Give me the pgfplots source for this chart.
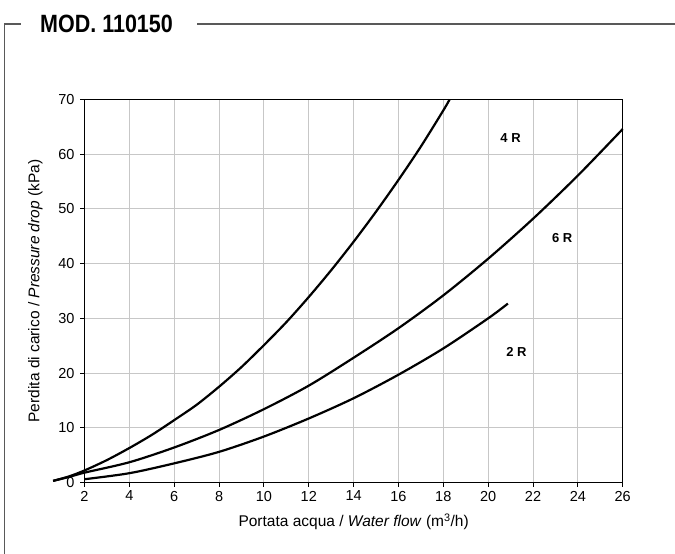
\documentclass[border=0pt]{standalone}
\usepackage{fontspec}
\setmainfont{Liberation Sans}
\newfontfamily\titlefont[FakeStretch=0.86]{Liberation Sans}
\usepackage{pgfplots}
\pgfplotsset{compat=1.18}

\begin{document}
\begin{tikzpicture}
\useasboundingbox (0,0) rectangle (675bp,554bp);
% frame round the chart
\draw[black!65, line width=1.6bp] (4.5bp,0) -- (4.5bp,530bp) -- (21bp,530bp);
\draw[black!65, line width=1.6bp] (197bp,530bp) -- (675bp,530bp);
\node[anchor=base west, inner sep=0pt, font=\titlefont\fontsize{25bp}{28bp}\selectfont\bfseries] at (40bp,521.7bp) {MOD. 110150};

\begin{axis}[at={(84.5bp,71.5bp)}, anchor=south west,
  scale only axis, width=538.2bp, height=383bp,
  xmin=2, xmax=26, ymin=0, ymax=70,
  xtick={2,4,...,26}, ytick={0,10,...,70},
  xtick pos=bottom, ytick pos=left, tick align=outside,
  major tick length=4bp, tick style={black, line width=1bp},
  grid=major, grid style={black!22, line width=1bp},
  axis line style={black, line width=1.4bp},
  clip=false,
  ticklabel style={font=\fontsize{14.5bp}{16bp}\selectfont},
  yticklabel style={xshift=-2.5bp},
  xticklabel style={yshift=-1bp},
  /pgf/number format/assume math mode=true,
  label style={font=\fontsize{15.5bp}{18bp}\selectfont},
  xlabel style={yshift=-6bp},
  ylabel style={yshift=9bp},
  xlabel={Portata acqua / \textit{Water flow} (m\textsuperscript{3}/h)},
  ylabel={Perdita di carico / \textit{Pressure drop} (kPa)}]
% 4 R
\addplot[black, line width=2.2bp, smooth] coordinates {
 (0.6,0.3) (1.3,1.1) (2,2.2) (3,4.1) (4,6.3) (5,8.7) (6,11.4) (7,14.2) (8,17.5) (9,21.1)
 (10,25.1) (11,29.3) (12,33.9) (13,38.8) (14,44.0) (15,49.5) (16,55.3) (17,61.4) (18,68.0) (18.28,70)};
% 6 R
\addplot[black, line width=2.2bp, smooth] coordinates {
 (0.6,0.3) (1.3,1.0) (2,1.8) (4,3.7) (6,6.4) (8,9.6) (10,13.4) (12,17.7) (14,22.8)
 (16,28.2) (18,34.2) (20,40.9) (22,48.2) (24,56.1) (26,64.6)};
% 2 R
\addplot[black, line width=2.2bp, smooth] coordinates {
 (2,0.6) (4,1.7) (6,3.5) (8,5.6) (10,8.4) (12,11.7) (14,15.4) (16,19.7) (18,24.5) (20,30.0) (20.88,32.7)};
\node[font=\fontsize{13bp}{15bp}\selectfont\bfseries] at (axis cs:21.0,63.0) {4 R};
\node[font=\fontsize{13bp}{15bp}\selectfont\bfseries] at (axis cs:23.3,44.7) {6 R};
\node[font=\fontsize{13bp}{15bp}\selectfont\bfseries] at (axis cs:21.26,23.9) {2 R};
\end{axis}
\end{tikzpicture}
\end{document}
